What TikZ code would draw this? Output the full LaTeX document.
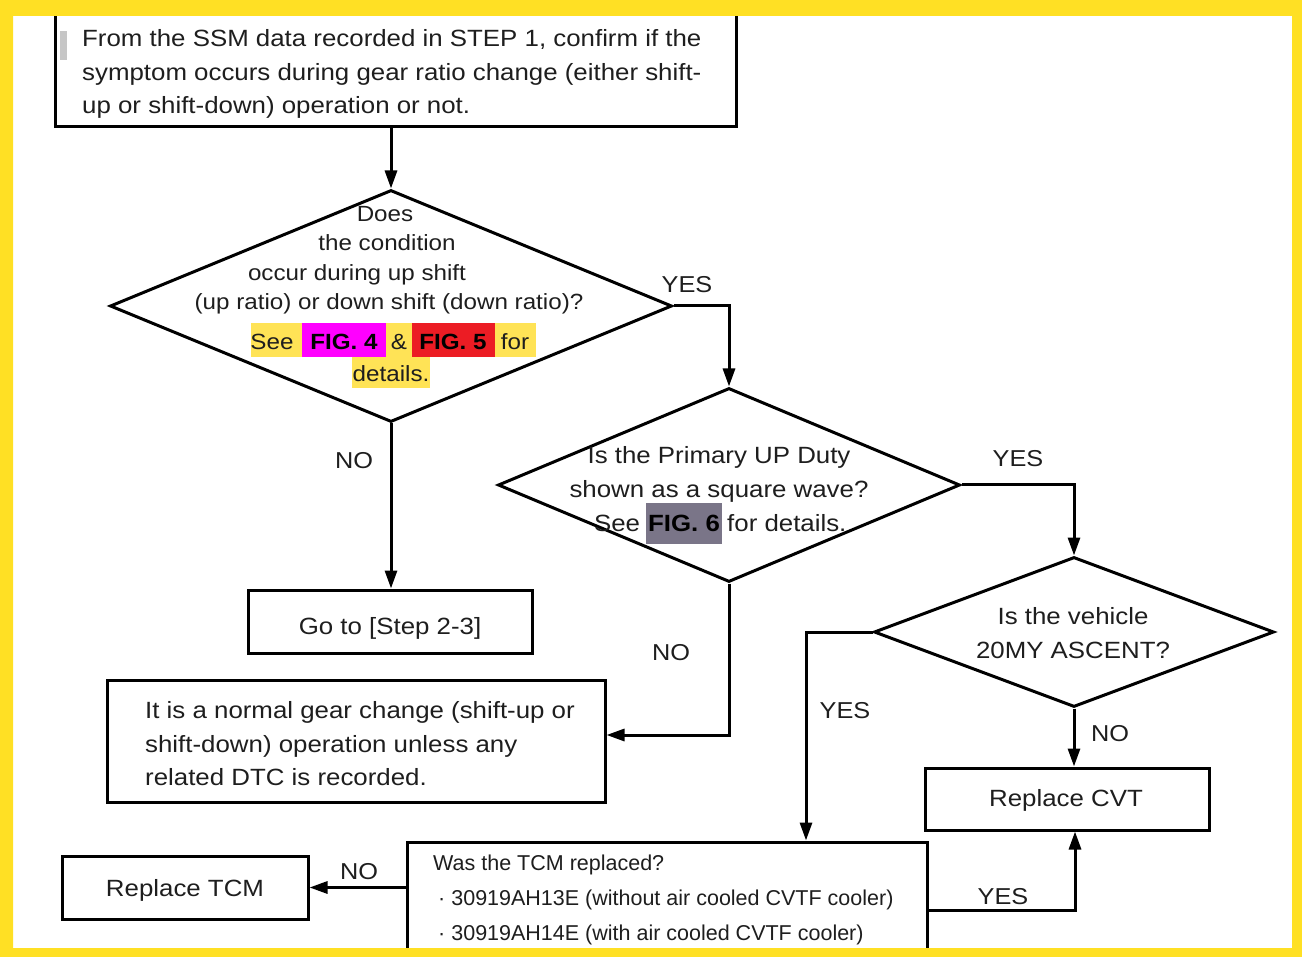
\documentclass[tikz,border=0pt]{standalone}
\usepackage{fontspec}
\setmainfont{Liberation Sans}[FakeStretch=1.1]
\newfontfamily\plainfont{Liberation Sans}
\usetikzlibrary{shapes.geometric,arrows.meta}
\definecolor{frameyellow}{HTML}{FFE024}
\definecolor{hlyellow}{HTML}{FFE356}
\definecolor{hlmag}{HTML}{FF00FF}
\definecolor{hlred}{HTML}{EC1C24}
\definecolor{hlgrey}{HTML}{7A7588}
\definecolor{textc}{HTML}{1E1E1E}
\tikzset{
  box/.style={draw, line width=3pt, inner sep=0pt},
  dia/.style={draw, diamond, line width=3pt, inner sep=0pt},
  conn/.style={line width=3pt},
  arr/.style={conn, -{Triangle[width=12pt,length=18pt]}},
  lbl/.style={inner sep=0pt, text=textc, font=\fontsize{23}{28}\selectfont},
  btxt/.style={inner sep=0pt, text=textc, font=\fontsize{23.5}{28}\selectfont},
  txt/.style={inner sep=0pt, text=textc, align=left, font=\fontsize{23.5}{33.5}\selectfont},
  ctxt/.style={inner sep=0pt, text=textc, align=center, font=\fontsize{23.5}{34}\selectfont},
  dtxt/.style={inner sep=0pt, text=textc, align=center, font=\fontsize{22}{29.5}\selectfont},
  word/.style={inner sep=0pt, text=textc, anchor=base, font=\fontsize{22}{29.5}\selectfont},
  tcmtxt/.style={inner sep=0pt, text=textc, align=left, font=\plainfont\fontsize{21.5}{35}\selectfont},
}
\begin{document}
\begin{tikzpicture}[x=1pt,y=-1pt]
\useasboundingbox (0,0) rectangle (1302,957);
\fill[white] (0,0) rectangle (1302,957);

% start box
\node[box, minimum width=681pt, minimum height=130pt] (start) at (395.5,62) {};
\fill[gray!45] (60,31) rectangle (67,60);
\node[txt, anchor=west] (starttext) at (82,74) {From the SSM data recorded in STEP 1, confirm if the\\symptom occurs during gear ratio change (either shift-\\up or shift-down) operation or not.};

% diamond 1
\node[dia, minimum width=562pt, minimum height=232pt] (d1) at (391,306) {};
\node[dtxt] (d1text) at (389,260) {Does\hspace*{8pt}\mbox{}\\the condition\hspace*{4pt}\mbox{}\\occur during up shift\hspace*{64pt}\mbox{}\\(up ratio) or down shift (down ratio)?};
\fill[hlyellow] (251,323) rectangle (536,357);
\fill[hlmag] (302,323) rectangle (386,357);
\fill[hlred] (412,323) rectangle (495,357);
\fill[hlyellow] (352,357) rectangle (430,388);
\node[word] (see1) at (272,350) {See};
\node[word, text=black] (fig4) at (344,350) {\bfseries FIG. 4};
\node[word] (amp) at (399,350) {\&};
\node[word, text=black] (fig5) at (453,350) {\bfseries FIG. 5};
\node[word] (for1) at (515,350) {for};
\node[word] (details1) at (391,382) {details.};

% go to box
\node[box, minimum width=284pt, minimum height=63pt] (goto) at (390,621.5) {};
\node[btxt] (gototext) at (390,628) {Go to [Step 2-3]};

% diamond 2
\node[dia, minimum width=462pt, minimum height=194pt] (d2) at (729,485) {};
\node[ctxt] (d2text) at (719,474) {Is the Primary UP Duty\\shown as a square wave?};
\node[inner sep=0pt, fill=hlgrey, minimum width=76pt, minimum height=41pt] (fig6box) at (684,523.5) {};
\node[inner sep=0pt, text=black, anchor=base, font=\fontsize{23.5}{34}\selectfont] (fig6) at (684,532) {\bfseries FIG. 6};
\node[inner sep=0pt, text=textc, anchor=base, font=\fontsize{23.5}{34}\selectfont] (see2) at (617,532) {See};
\node[inner sep=0pt, text=textc, anchor=base west, font=\fontsize{23.5}{34}\selectfont] (for2) at (727,532) {for details.};

% normal box
\node[box, minimum width=498pt, minimum height=122pt] (normal) at (356,741) {};
\node[txt, anchor=west] (normaltext) at (145,744) {It is a normal gear change (shift-up or\\shift-down) operation unless any\\related DTC is recorded.};

% diamond 3
\node[dia, minimum width=400pt, minimum height=150pt] (d3) at (1074,632) {};
\node[ctxt] (d3text) at (1073,633) {Is the vehicle\\20MY ASCENT?};

% replace CVT
\node[box, minimum width=284pt, minimum height=62pt] (cvt) at (1067,799) {};
\node[btxt] (cvttext) at (1066,800) {Replace CVT};

% TCM question box
\node[box, minimum width=520pt, minimum height=128pt] (tcm) at (667,906) {};
\node[tcmtxt, anchor=north west] (tcmtext) at (433,855) {Was the TCM replaced?\\\hspace*{5pt}·\hspace*{6pt}30919AH13E (without air cooled CVTF cooler)\\\hspace*{5pt}·\hspace*{6pt}30919AH14E (with air cooled CVTF cooler)};

% replace TCM
\node[box, minimum width=246pt, minimum height=63pt] (rtcm) at (185,887.5) {};
\node[btxt] (rtcmtext) at (185,890) {Replace TCM};

% connectors
\draw[arr] (d1.north |- start.south) -- (d1.north);
\draw[arr] (d1.east) -| (d2.north);
\draw[arr] (d1.south) -- (d1.south |- goto.north);
\draw[arr] (d2.east) -| (d3.north);
\coordinate (n2) at (729,735);
\draw[arr] (d2.south) -- (n2) -- (n2 -| normal.east);
\coordinate (y3) at (806,632);
\draw[arr] (d3.west) -- (y3) -- (y3 |- tcm.north);
\draw[arr] (d3.south) -- (d3.south |- cvt.north);
\draw[arr] (tcm.west |- rtcm.east) -- (rtcm.east);
\coordinate (y4) at (1075,910);
\draw[arr] (tcm.east |- y4) -- (y4) -- (y4 |- cvt.south);

% labels
\node[lbl] (yes1) at (687,285) {YES};
\node[lbl] (no1) at (354,461) {NO};
\node[lbl] (yes2) at (1018,459) {YES};
\node[lbl] (no2) at (671,653) {NO};
\node[lbl] (yes3) at (845,711) {YES};
\node[lbl] (no3) at (1110,734) {NO};
\node[lbl] (no4) at (359,872) {NO};
\node[lbl] (yes4) at (1003,897) {YES};

% frame
\fill[frameyellow, even odd rule] (0,0) rectangle (1302,957) (13,16) rectangle (1292,948);
\end{tikzpicture}
\end{document}
